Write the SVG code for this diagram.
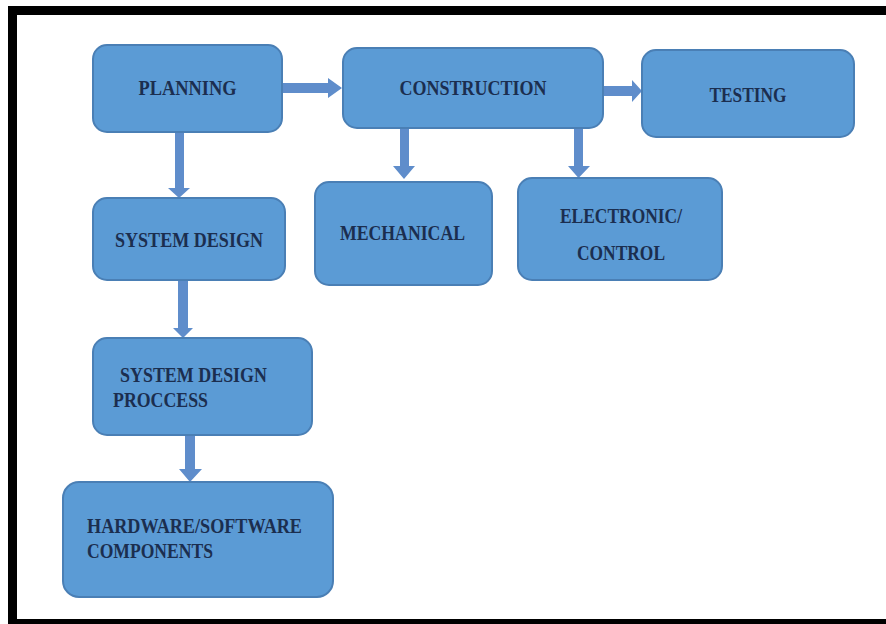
<svg xmlns="http://www.w3.org/2000/svg" width="886" height="624" viewBox="0 0 886 624">
<style>
.box{fill:#5B9BD5;stroke:#4A7FB5;stroke-width:2}
.lbl{font-family:"Liberation Serif","Times New Roman",serif;font-weight:bold;font-size:21px;fill:#1B2E4F;lengthAdjust:spacingAndGlyphs}
.arr{fill:#5F8DCB;stroke:none}
</style>
<rect x="0" y="0" width="886" height="624" fill="#ffffff"/>
<rect x="12.5" y="10.5" width="890" height="613" fill="none" stroke="#000000" stroke-width="9"/>
<g id="connectors">
<path class="arr" d="M282,83 H328 V78 L342,88 L328,98 V93 H282 Z"/>
<path class="arr" d="M603,86 H632 V80 L642,91 L632,102 V96 H603 Z"/>
<path class="arr" d="M175,132 V188 H168 L179,198 L190,188 H184 V132 Z"/>
<path class="arr" d="M178,280 V328 H173 L183,338 L193,328 H188 V280 Z"/>
<path class="arr" d="M185,435 V469 H179 L190,482 L202,469 H195 V435 Z"/>
<path class="arr" d="M400,128 V166 H393 L404,179 L415,166 H409 V128 Z"/>
<path class="arr" d="M574,128 V166 H568 L578.5,178 L590,166 H583 V128 Z"/>
</g>
<g id="planning">
<rect class="box" x="93" y="45" width="189" height="87" rx="14"/>
<text class="lbl" x="187.5" y="95" text-anchor="middle" textLength="98" lengthAdjust="spacingAndGlyphs">PLANNING</text>
</g>
<g id="construction">
<rect class="box" x="343" y="48" width="260" height="80" rx="14"/>
<text class="lbl" x="473" y="95" text-anchor="middle" textLength="147" lengthAdjust="spacingAndGlyphs">CONSTRUCTION</text>
</g>
<g id="testing">
<rect class="box" x="642" y="50" width="212" height="87" rx="14"/>
<text class="lbl" x="748" y="102" text-anchor="middle" textLength="77" lengthAdjust="spacingAndGlyphs">TESTING</text>
</g>
<g id="system-design">
<rect class="box" x="93" y="198" width="192" height="82" rx="14"/>
<text class="lbl" x="189" y="247" text-anchor="middle" textLength="148" lengthAdjust="spacingAndGlyphs">SYSTEM DESIGN</text>
</g>
<g id="mechanical">
<rect class="box" x="315" y="182" width="177" height="103" rx="14"/>
<text class="lbl" x="402.5" y="240" text-anchor="middle" textLength="125" lengthAdjust="spacingAndGlyphs">MECHANICAL</text>
</g>
<g id="electronic-control">
<rect class="box" x="518" y="178" width="204" height="102" rx="14"/>
<text class="lbl" x="621" y="223" text-anchor="middle" textLength="122" lengthAdjust="spacingAndGlyphs">ELECTRONIC/</text>
<text class="lbl" x="621" y="260" text-anchor="middle" textLength="88" lengthAdjust="spacingAndGlyphs">CONTROL</text>
</g>
<g id="system-design-process">
<rect class="box" x="93" y="338" width="219" height="97" rx="14"/>
<text class="lbl" x="120" y="382" textLength="147" lengthAdjust="spacingAndGlyphs">SYSTEM DESIGN</text>
<text class="lbl" x="113" y="407" textLength="95" lengthAdjust="spacingAndGlyphs">PROCCESS</text>
</g>
<g id="hardware-software">
<rect class="box" x="63" y="482" width="270" height="115" rx="16"/>
<text class="lbl" x="87" y="533" textLength="215" lengthAdjust="spacingAndGlyphs">HARDWARE/SOFTWARE</text>
<text class="lbl" x="87" y="558" textLength="126" lengthAdjust="spacingAndGlyphs">COMPONENTS</text>
</g>
</svg>
